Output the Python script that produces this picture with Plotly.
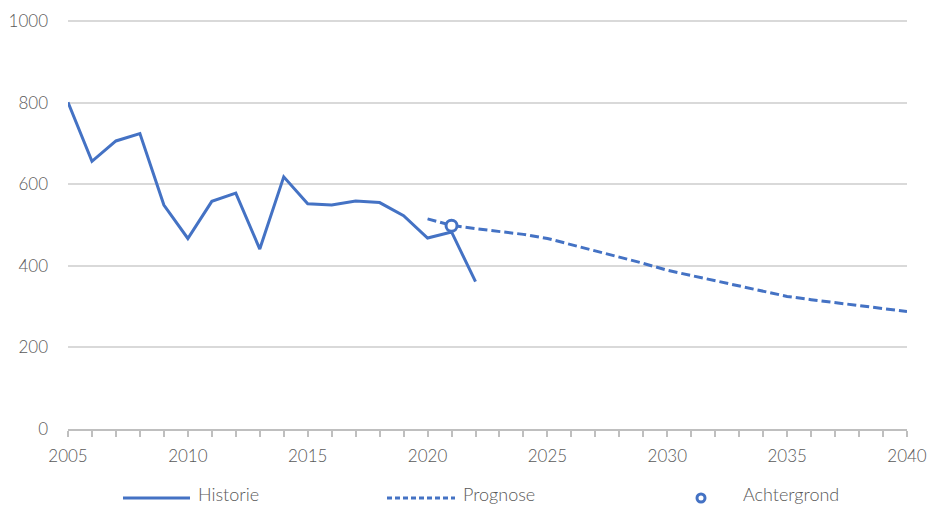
import plotly.graph_objects as go

# Data
hist_years = list(range(2005, 2023))
hist_values = [801, 656, 706, 724, 549, 467, 558, 578, 441, 618, 552, 549, 559, 555, 523, 468, 483, 361]

prog_years = list(range(2020, 2041))
prog_values = [515, 499, 491, 484, 477, 467, 452, 437, 422, 406, 389,
               376, 363, 350, 337, 325, 317, 310, 302, 295, 288]

bg_years = [2021]
bg_values = [498]

x_ticks = [2005, 2010, 2015, 2020, 2025, 2030, 2035, 2040]
y_ticks = [0, 200, 400, 600, 800, 1000]
legend_labels = ["Historie", "Prognose", "Achtergrond"]

BLUE = "#4472C4"
GREY_TXT = "#595959"
FONT = "Lato, 'Open Sans', sans-serif"

fig = go.Figure()
fig.add_trace(go.Scatter(x=hist_years, y=hist_values, mode="lines",
                         line=dict(color=BLUE, width=3), name=legend_labels[0]))
fig.add_trace(go.Scatter(x=prog_years, y=prog_values, mode="lines",
                         line=dict(color=BLUE, width=3, dash="9px,4px"), name=legend_labels[1]))
fig.add_trace(go.Scatter(x=bg_years, y=bg_values, mode="markers",
                         marker=dict(symbol="circle", size=11, color="white",
                                     line=dict(color=BLUE, width=3)),
                         name=legend_labels[2]))

W, H = 927, 506
L, R, T, B = 68, 20, 10, 77
pw, ph = W - L - R, H - T - B
y_top = 1000 * ph / 408.0

def px_x(p):
    return (p - L) / pw

def px_y(p):
    return (H - B - p) / ph

ly = px_y(498)
shapes = [
    dict(type="line", xref="paper", yref="paper", x0=px_x(123), x1=px_x(190), y0=ly, y1=ly,
         line=dict(color=BLUE, width=3)),
    dict(type="line", xref="paper", yref="paper", x0=px_x(387), x1=px_x(455), y0=ly, y1=ly,
         line=dict(color=BLUE, width=3, dash="5px,3px")),
    dict(type="circle", xref="paper", yref="paper",
         x0=px_x(697), x1=px_x(705), y0=px_y(502), y1=px_y(494),
         line=dict(color=BLUE, width=3), fillcolor="white"),
]
annotations = []
for label, xp in zip(legend_labels, [196, 461, 741]):
    annotations.append(dict(text=label, xref="paper", yref="paper", x=px_x(xp), y=px_y(494),
                            xanchor="left", yanchor="middle", showarrow=False,
                            font=dict(size=18, color=GREY_TXT, family=FONT, weight=300)))

fig.update_layout(
    width=W, height=H,
    margin=dict(l=L, r=R, t=T, b=B),
    paper_bgcolor="white", plot_bgcolor="white",
    showlegend=False,
    shapes=shapes, annotations=annotations,
    font=dict(family=FONT, color=GREY_TXT, weight=300),
)
fig.update_xaxes(range=[2005, 2040], tickvals=x_ticks, ticks="outside", ticklen=6,
                 tickcolor="#bfbfbf", tickwidth=1.5, automargin=False,
                 minor=dict(dtick=1, tick0=2005, ticks="outside", ticklen=6,
                            tickcolor="#bfbfbf", tickwidth=1.5, showgrid=False),
                 showgrid=False, showline=True, linecolor="#bfbfbf", linewidth=1.5,
                 zeroline=False, tickfont=dict(size=17, color=GREY_TXT, weight=300),
                 ticklabelstandoff=5)
fig.update_yaxes(range=[0, y_top], tickvals=y_ticks, showgrid=True, gridcolor="#d9d9d9",
                 gridwidth=1.5, zeroline=False, showline=False, ticks="", automargin=False,
                 tickfont=dict(size=17, color=GREY_TXT, weight=300), ticklabelstandoff=19)

fig.write_html("out.html", config={"displayModeBar": False},
               post_script="document.body.style.margin='0';document.body.style.overflow='hidden';")
